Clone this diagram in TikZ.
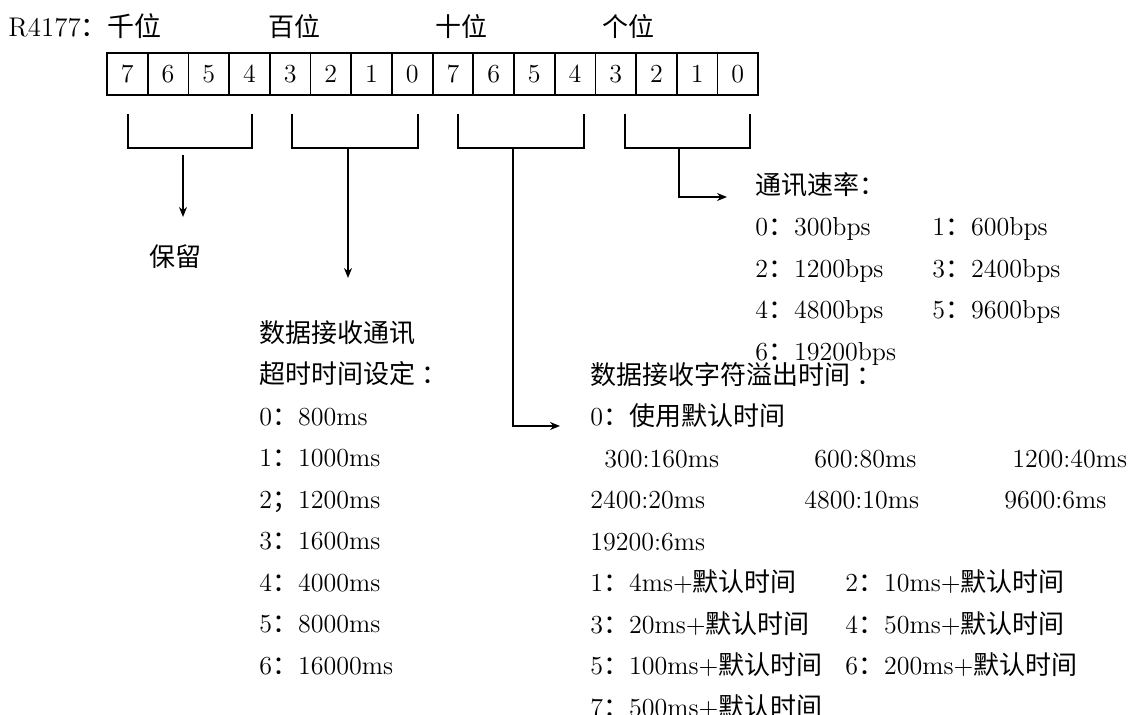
\documentclass[tikz,border=0pt]{standalone}
\usepackage{fontspec}
\newfontfamily\zhfont{Noto Sans CJK SC}
\newcommand{\zh}[1]{{\zhfont #1}}
\usetikzlibrary{positioning, arrows.meta}
\tikzset{
  cell/.style     = {draw, line width=0.9pt, minimum width=20.35pt, minimum height=21pt,
                     inner sep=0pt, font=\fontsize{13}{15}\selectfont},
  txt/.style      = {anchor=west, inner sep=0pt, font=\fontsize{13}{15}\selectfont,
                     text height=10pt, text depth=0.5pt},
  nextline/.style = {below=20.75pt of #1.west, anchor=west},
  brk/.style      = {line width=0.7pt},
  flow/.style     = {line width=0.7pt, -{Stealth[length=5pt, width=4pt]}},
}

\begin{document}
\begin{tikzpicture}[x=0.5pt, y=-0.5pt]
\useasboundingbox (0,0) rectangle (1131,715);
\clip (0,0) rectangle (1131,715);

% Register name and digit headings
\node (reg)  [txt, font=\fontsize{13.5}{15}\selectfont] at (8,27) {R4177\zh{：千位}};
\node (hund) [txt] at (268,27) {\zh{百位}};
\node (tens) [txt] at (435,27) {\zh{十位}};
\node (ones) [txt] at (602,27) {\zh{个位}};

% Bit cells
\foreach \b [count=\i from 0] in {7,6,5,4,3,2,1,0,7,6,5,4,3,2,1,0}
  \node (c\i) [cell] at ({107+40.7*(\i+0.5)},74) {\b};

% Brackets under each digit
\draw [brk] (128,114) |- (252,148) -- (252,114);
\draw [brk] (292,114) |- (418,148) -- (418,114);
\draw [brk] (458,114) |- (584,148) -- (584,114);
\draw [brk] (625,114) |- (750,148) -- (750,114);

% Thousands: reserved
\node (rsv) [txt] at (149,257) {\zh{保留}};

% Hundreds: receive timeout
\node (to0) [txt] at (259,333) {\zh{数据接收通讯}};
\node (to1) [txt, nextline=to0] {\zh{超时时间设定 ：}};
\node (to2) [txt, nextline=to1] {0\zh{：}800ms};
\node (to3) [txt, nextline=to2] {1\zh{：}1000ms};
\node (to4) [txt, nextline=to3] {2\zh{；}1200ms};
\node (to5) [txt, nextline=to4] {3\zh{：}1600ms};
\node (to6) [txt, nextline=to5] {4\zh{：}4000ms};
\node (to7) [txt, nextline=to6] {5\zh{：}8000ms};
\node (to8) [txt, nextline=to7] {6\zh{：}16000ms};

% Ones: baud rate
\node (bd0) [txt] at (755,185) {\zh{通讯速率：}};
\node (bd1) [txt, nextline=bd0] {0\zh{：}300bps};
\node (bd2) [txt, nextline=bd1] {2\zh{：}1200bps};
\node (bd3) [txt, nextline=bd2] {4\zh{：}4800bps};
\node (bd4) [txt, nextline=bd3] {6\zh{：}19200bps};
\node (bd1r) [txt] at ([xshift=88.5pt]bd1.west) {1\zh{：}600bps};
\node (bd2r) [txt] at ([xshift=88.5pt]bd2.west) {3\zh{：}2400bps};
\node (bd3r) [txt] at ([xshift=88.5pt]bd3.west) {5\zh{：}9600bps};

% Tens: character overflow time
\node (ov0) [txt] at (590,375) {\zh{数据接收字符溢出时间 ：}};
\node (ov1) [txt, nextline=ov0] {0\zh{：使用默认时间}};
\node (ov2) [txt, nextline=ov1] {\hspace*{7pt}300:160ms};
\node (ov2b) [txt] at ([xshift=112pt]ov2.west) {600:80ms};
\node (ov2c) [txt] at ([xshift=211pt]ov2.west) {1200:40ms};
\node (ov3) [txt, nextline=ov2] {2400:20ms};
\node (ov3b) [txt] at ([xshift=107pt]ov3.west) {4800:10ms};
\node (ov3c) [txt] at ([xshift=207pt]ov3.west) {9600:6ms};
\node (ov4) [txt, nextline=ov3] {19200:6ms};
\node (ov5) [txt, nextline=ov4] {1\zh{：}4ms+\zh{默认时间}};
\node (ov5b) [txt] at ([xshift=127.5pt]ov5.west) {2\zh{：}10ms+\zh{默认时间}};
\node (ov6) [txt, nextline=ov5] {3\zh{：}20ms+\zh{默认时间}};
\node (ov6b) [txt] at ([xshift=127.5pt]ov6.west) {4\zh{：}50ms+\zh{默认时间}};
\node (ov7) [txt, nextline=ov6] {5\zh{：}100ms+\zh{默认时间}};
\node (ov7b) [txt] at ([xshift=127.5pt]ov7.west) {6\zh{：}200ms+\zh{默认时间}};
\node (ov8) [txt, nextline=ov7] {7\zh{：}500ms+\zh{默认时间}};

% Arrows from the brackets
\coordinate (k1a) at (183,155);
\coordinate (k1b) at (183,217);
\coordinate (k2a) at (348,148);
\coordinate (k2b) at (348,278);
\coordinate (k3a) at (513,148);
\coordinate (k3b) at (560,426);
\coordinate (k4a) at (679,148);
\coordinate (k4b) at (727,197);

\draw [flow] (k1a) -- (k1b);
\draw [flow] (k2a) -- (k2b);
\draw [flow] (k3a) |- (k3b);
\draw [flow] (k4a) |- (k4b);

\end{tikzpicture}
\end{document}
